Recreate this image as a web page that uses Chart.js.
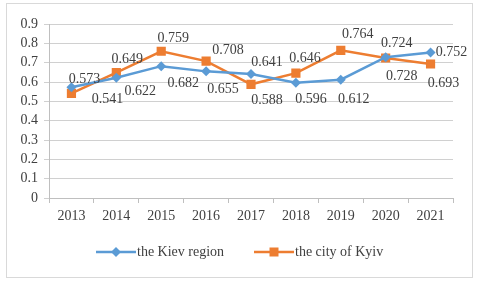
<!DOCTYPE html>
<html><head><meta charset="utf-8">
<script src="https://cdn.jsdelivr.net/npm/chart.js@4/dist/chart.umd.min.js"></script>
<style>html,body{margin:0;padding:0;background:#fff}#wrap{width:480px;height:282px;position:relative}</style>
</head><body><div id="wrap"><canvas id="c" width="480" height="282"></canvas></div>
<script>
const years = ['2013','2014','2015','2016','2017','2018','2019','2020','2021'];
const kievRegion = [0.573, 0.622, 0.682, 0.655, 0.641, 0.596, 0.612, 0.728, 0.752];
const kyivCity = [0.541, 0.649, 0.759, 0.708, 0.588, 0.646, 0.764, 0.724, 0.693];
const seriesNames = ['the Kiev region', 'the city of Kyiv'];
const yTicks = [0, 0.1, 0.2, 0.3, 0.4, 0.5, 0.6, 0.7, 0.8, 0.9];

// label offsets (pixels, relative to point) — layout only
const regionLabelOffsets = [[13,-8],[24,14],[22,17],[17,18],[16,-12],[15,17],[13,20],[16,19],[21,0]];
const cityLabelOffsets = [[36,6],[11,-13],[12,-13],[22,-11],[16,16],[9,-15],[17,-16],[11,-15],[13,19]];

const BLUE = '#5B9BD5', ORANGE = '#ED7D31', TXT = '#404040';
const FONT = '14px "Liberation Serif", "Times New Roman", serif';

const labelPlugin = {
  id: 'labels',
  afterDatasetsDraw(chart) {
    const ctx = chart.ctx;
    ctx.save();
    ctx.font = FONT;
    ctx.fillStyle = TXT;
    ctx.textAlign = 'center';
    ctx.textBaseline = 'middle';
    const offs = [regionLabelOffsets, cityLabelOffsets];
    chart.data.datasets.forEach((ds, di) => {
      const meta = chart.getDatasetMeta(di);
      meta.data.forEach((pt, i) => {
        const o = offs[di][i];
        ctx.fillText(ds.data[i].toFixed(3), pt.x + o[0], pt.y + o[1]);
      });
    });
    ctx.restore();
  }
};

function drawMarker(ctx, style, x, y, color) {
  ctx.fillStyle = color;
  ctx.beginPath();
  if (style === 'rectRot') {
    const r = 5;
    ctx.moveTo(x - r, y); ctx.lineTo(x, y - r); ctx.lineTo(x + r, y); ctx.lineTo(x, y + r);
  } else {
    const s = 4.5;
    ctx.rect(x - s, y - s, 2 * s, 2 * s);
  }
  ctx.closePath();
  ctx.fill();
}

const frameLegendPlugin = {
  id: 'frameLegend',
  beforeDraw(chart) {
    const ctx = chart.ctx;
    ctx.save();
    ctx.fillStyle = '#fff';
    ctx.fillRect(0, 0, chart.width, chart.height);
    ctx.strokeStyle = '#d9d9d9';
    ctx.lineWidth = 1;
    ctx.strokeRect(6.5, 3.5, 466, 274);
    ctx.restore();
  },
  afterDraw(chart) {
    const ctx = chart.ctx;
    ctx.save();
    const items = [
      {x: 96, color: BLUE, style: 'rectRot', text: seriesNames[0]},
      {x: 254, color: ORANGE, style: 'rect', text: seriesNames[1]}
    ];
    const y = 252;
    items.forEach(it => {
      ctx.strokeStyle = it.color;
      ctx.lineWidth = 2.5;
      ctx.beginPath();
      ctx.moveTo(it.x, y); ctx.lineTo(it.x + 40, y);
      ctx.stroke();
      drawMarker(ctx, it.style, it.x + 20, y, it.color);
      ctx.font = FONT;
      ctx.fillStyle = TXT;
      ctx.textAlign = 'left';
      ctx.textBaseline = 'middle';
      ctx.fillText(it.text, it.x + 41, y);
    });
    ctx.restore();
  }
};

new Chart(document.getElementById('c'), {
  type: 'line',
  data: {
    labels: years,
    datasets: [
      {label: seriesNames[0], data: kievRegion, borderColor: BLUE, backgroundColor: BLUE,
       borderWidth: 2.5, pointStyle: 'rectRot', pointRadius: 5, pointBorderWidth: 0, tension: 0},
      {label: seriesNames[1], data: kyivCity, borderColor: ORANGE, backgroundColor: ORANGE,
       borderWidth: 2.5, pointStyle: 'rect', pointRadius: 6.5, pointBorderWidth: 0, tension: 0}
    ]
  },
  options: {
    responsive: false,
    animation: false,
    devicePixelRatio: 1,
    layout: {padding: {left: 0, top: 24, right: 27, bottom: 0}},
    plugins: {legend: {display: false}, tooltip: {enabled: false}},
    scales: {
      x: {
        offset: true,
        afterFit(s) { s.height = 84; },
        grid: {display: true, drawOnChartArea: false, drawTicks: true, tickLength: 5, offset: true, color: '#bfbfbf'},
        border: {display: true, color: '#bfbfbf', width: 1},
        ticks: {font: {family: '"Liberation Serif", serif', size: 14}, color: TXT, padding: 5, maxRotation: 0, autoSkip: false}
      },
      y: {
        min: yTicks[0], max: yTicks[yTicks.length - 1],
        afterFit(s) { s.width = 49; },
        grid: {color: '#d0d0d0', drawTicks: true, tickLength: 5},
        border: {display: true, color: '#bfbfbf', width: 1},
        ticks: {font: {family: '"Liberation Serif", serif', size: 14}, color: TXT, padding: 6, crossAlign: 'near',
                stepSize: 0.1, autoSkip: false, count: yTicks.length,
                callback: v => String(Math.round(v * 10) / 10)}
      }
    }
  },
  plugins: [labelPlugin, frameLegendPlugin]
});
</script></body></html>
